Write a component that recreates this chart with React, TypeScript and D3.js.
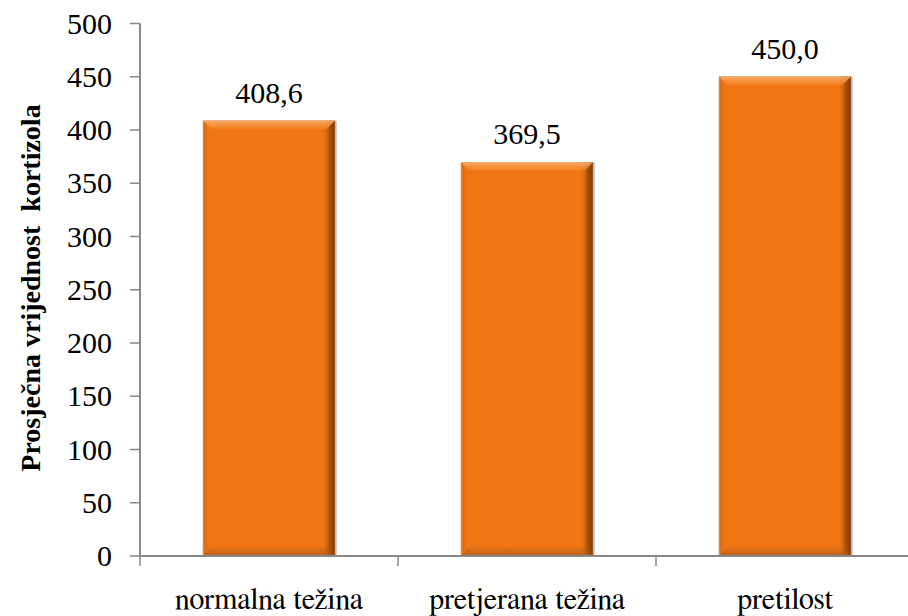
import React from "react";
import * as d3 from "d3";

const categories = ["normalna težina", "pretjerana težina", "pretilost"];
const values = [408.6, 369.5, 450.0];
const valueLabels = ["408,6", "369,5", "450,0"];
const yTicks = [0, 50, 100, 150, 200, 250, 300, 350, 400, 450, 500];
const yTitle = "Prosječna vrijednost\u00a0 kortizola";

const W = 908;
const H = 616;

export default function App() {
  const x0 = 140;
  const band = 258;
  const x = d3
    .scaleBand<string>()
    .domain(categories)
    .range([x0, x0 + band * categories.length])
    .paddingInner(0.49)
    .paddingOuter(0.245);
  const y = d3.scaleLinear().domain([0, 500]).range([556, 23.5]);
  const bw = x.bandwidth();
  const axisColor = "#878787";

  return (
    <svg width={W} height={H} style={{ position: "absolute", left: 0, top: 0, background: "#fff" }}>
      <defs>
        <linearGradient id="hg" x1="0" x2="1" y1="0" y2="0">
          <stop offset="0" stopColor="#b85a0c" stopOpacity="0.45" />
          <stop offset="0.06" stopColor="#f07613" stopOpacity="0" />
          <stop offset="0.9" stopColor="#f07613" stopOpacity="0" />
          <stop offset="0.96" stopColor="#8a4208" stopOpacity="0.7" />
          <stop offset="1" stopColor="#6a3206" stopOpacity="0.85" />
        </linearGradient>
        <linearGradient id="vb" x1="0" x2="0" y1="0" y2="1">
          <stop offset="0" stopColor="#a85a1c" stopOpacity="0.1" />
          <stop offset="1" stopColor="#a85a1c" stopOpacity="0.75" />
        </linearGradient>
        <linearGradient id="vt" x1="0" x2="0" y1="0" y2="1">
          <stop offset="0" stopColor="#fbb06a" stopOpacity="1" />
          <stop offset="1" stopColor="#f58a30" stopOpacity="0.6" />
        </linearGradient>
      </defs>
      <line x1={x0} x2={x0} y1={y(500)} y2={y(0)} stroke={axisColor} strokeWidth={2} />
      {yTicks.map((t) => (
        <g key={t}>
          <line x1={x0 - 10} x2={x0} y1={y(t)} y2={y(t)} stroke={axisColor} strokeWidth={1.5} />
          <text x={x0 - 28} y={y(t) + 10} textAnchor="end" fontSize={30} style={{ fontFamily: "Tinos" }}>
            {t}
          </text>
        </g>
      ))}
      {categories.map((c, i) => {
        const bx = x(c)!;
        const by = y(values[i]);
        const bh = y(0) - by;
        return (
          <g key={c}>
            <rect x={bx + 2} y={by} width={bw} height={bh} fill="#9a9a9a" opacity={0.6} />
            <rect x={bx} y={by} width={bw} height={bh} fill="#f07613" stroke="#d9a27a" strokeWidth={1} />
            <rect x={bx} y={by} width={bw} height={bh} fill="url(#hg)" />
            <polygon
              points={`${bx},${by} ${bx + bw},${by} ${bx + bw - 8},${by + 8} ${bx + 8},${by + 8}`}
              fill="url(#vt)"
              opacity={0.9}
            />
            <polygon
              points={`${bx},${by + bh} ${bx + bw},${by + bh} ${bx + bw - 8},${by + bh - 9} ${bx + 8},${by + bh - 9}`}
              fill="url(#vb)"
            />
            <text x={bx + bw / 2} y={by - 18} textAnchor="middle" fontSize={30} style={{ fontFamily: "Nimbus Roman" }}>
              {valueLabels[i]}
            </text>
          </g>
        );
      })}
      <line x1={x0} x2={W} y1={y(0)} y2={y(0)} stroke={axisColor} strokeWidth={2} />
      {d3.range(categories.length + 1).map((k) => (
        <line key={k} x1={x0 + k * band} x2={x0 + k * band} y1={y(0)} y2={y(0) + 10} stroke={axisColor} strokeWidth={1.5} />
      ))}
      {categories.map((c) => (
        <text key={c} x={x(c)! + bw / 2} y={609} textAnchor="middle" fontSize={30} style={{ fontFamily: "FreeSerif" }}>
          {c}
        </text>
      ))}
      <text
        transform="translate(40,288) rotate(-90)"
        textAnchor="middle"
        fontSize={28}
        fontWeight="bold"
        style={{ fontFamily: "Liberation Serif" }}
      >
        {yTitle}
      </text>
    </svg>
  );
}
